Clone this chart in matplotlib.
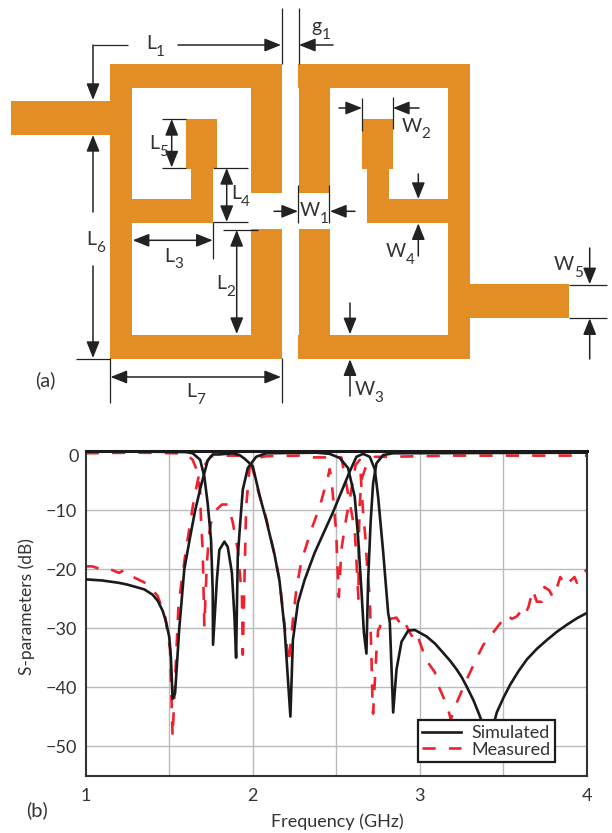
import matplotlib
matplotlib.use('Agg')
import matplotlib.pyplot as plt
from matplotlib.patches import Polygon

plt.rcParams['font.family'] = ['Lato', 'DejaVu Sans']
TXT = '#333333'
ORANGE = '#E38E25'
DIM = '#222222'

##data: curves (GHz, dB)
sim_s21_f = [1, 1.05, 1.1, 1.15, 1.2, 1.25, 1.3, 1.35, 1.4, 1.43, 1.46, 1.48, 1.5, 1.51, 1.52, 1.535, 1.56, 1.59, 1.625, 1.655, 1.69, 1.71, 1.73, 1.76, 1.8, 1.88, 1.92, 1.95,
             2, 2.04, 2.08, 2.13, 2.16, 2.19, 2.225, 2.24, 2.27, 2.31, 2.37, 2.48, 2.58, 2.62, 2.66, 2.7, 2.73, 2.75, 2.78, 2.81, 2.82, 2.84,
             2.86, 2.89, 2.93, 2.97, 3.04, 3.09, 3.14, 3.18, 3.22, 3.25, 3.28, 3.32, 3.35, 3.38, 3.41, 3.435, 3.46, 3.5, 3.54, 3.59, 3.64, 3.7, 3.76, 3.82, 3.88, 3.94, 4]
sim_s21_v = [-21.7, -21.8, -21.9, -22.1, -22.3, -22.6, -23, -23.4, -24.3, -25.3, -27, -28.8, -31.5, -35, -42, -41, -30, -20, -14.5, -10, -5.8, -3.7, -1.5, -0.5, -0.5, -0.3, -0.6, -1.2,
             -2.5, -7.4, -11.6, -17.5, -22, -30, -45, -32, -25.7, -21.8, -17.2, -10.3, -3.4, -0.9, -0.4, -0.9, -3, -7.7, -17, -27.4, -29, -44.3,
             -37, -32.3, -30.4, -30.3, -31.4, -32.6, -34.2, -35.5, -37, -38.3, -39.9, -42.2, -44.3, -46.5, -49, -47, -44.3, -41.8, -39.6, -37.3, -35.3, -33.5, -32, -30.6, -29.4, -28.3, -27.4]
sim_s11_f = [1, 1.3, 1.6, 1.64, 1.685, 1.71, 1.73, 1.75, 1.76, 1.762, 1.785, 1.80, 1.83, 1.85, 1.875, 1.89, 1.9, 1.91, 1.925, 1.94, 1.97, 2.02,
             2.08, 2.38, 2.46, 2.52, 2.57, 2.61, 2.63, 2.65, 2.665, 2.68, 2.69, 2.705, 2.72, 2.74, 2.78, 2.84, 4]
sim_s11_v = [0, 0, -0.1, -0.3, -1.4, -4.3, -8.8, -15, -23.5, -32.8, -21.8, -16.7, -15.3, -16.2, -20.6, -28, -35, -17.9, -12, -6.5, -2.8, -0.9,
             -0.3, -0.2, -0.4, -1.1, -2.8, -7.7, -14.5, -23.5, -30.8, -34.3, -22, -12, -5.4, -2, -0.6, -0.3, -0.2]
meas_s21_f = [1, 1.04, 1.08, 1.12, 1.2, 1.23, 1.27, 1.37, 1.43, 1.475, 1.505, 1.51, 1.52, 1.53, 1.545, 1.555, 1.575, 1.6, 1.625, 1.65, 1.68, 1.72,
              1.75, 1.8, 1.92, 1.98, 2, 2.03, 2.08, 2.13, 2.16, 2.18, 2.2, 2.215, 2.24, 2.26, 2.29, 2.35, 2.4, 2.45, 2.46, 2.47, 2.5, 2.505, 2.515,
              2.53, 2.555, 2.59, 2.615, 2.64, 2.66, 2.675, 2.685, 2.70, 2.705, 2.71, 2.717, 2.72, 2.73, 2.74, 2.75, 2.76, 2.77, 2.795, 2.825, 2.86,
              2.88, 2.9, 2.94, 2.96, 2.98, 3.015, 3.04, 3.09, 3.105, 3.165, 3.185, 3.21, 3.285, 3.355, 3.38, 3.45, 3.52, 3.55, 3.58, 3.615, 3.63, 3.65,
              3.675, 3.70, 3.73, 3.745, 3.775, 3.795, 3.81, 3.84, 3.87, 3.925, 3.94, 3.96, 4]
meas_s21_v = [-19.5, -19.5, -19.9, -19.7, -20.6, -20.1, -21.1, -22.5, -24.5, -28, -33.6, -38.7, -48.4, -42, -32.5, -26.3, -21.8, -16.7, -12.2, -7.7, -3.7, -2,
              -0.8, -0.7, -0.7, -1.8, -3, -6.5, -11.3, -17.5, -21.8, -26.9, -32, -36, -28.6, -23.5, -18.7, -13.3, -9.4, -4.3, -3, -4.5, -14, -18.7, -24.7,
              -16.7, -12, -6.5, -2.3, -1.4, -10.3, -15, -20, -24.8, -29.9, -34.7, -43.3, -44.5, -39.2, -34, -30.3, -29.9, -28.6, -28.2, -28.4, -28.2,
              -29.1, -28.4, -30.8, -31.6, -30.8, -33.6, -35.5, -37.5, -39.4, -43.3, -45.5, -43.3, -38.4, -34.2, -32.8, -30.3, -27.7, -28.4, -28, -26.7, -27.5, -26.4,
              -23.5, -25.5, -25.5, -23, -23.6, -24.7, -24, -21.3, -22.8, -21.3, -22.3, -21.3, -20]
meas_s11_f = [1, 1.3, 1.55, 1.6, 1.64, 1.67, 1.685, 1.69, 1.70, 1.71, 1.725, 1.74, 1.76, 1.815, 1.85, 1.88, 1.91, 1.935, 1.94, 1.96, 1.98, 2,
              2.08, 2.28, 2.35, 2.45, 2.53, 2.61, 2.62, 2.632, 2.635, 2.64, 2.65, 2.68, 2.73, 2.81, 3.2, 4]
meas_s11_v = [-0.3, -0.2, -0.3, -0.4, -1.4, -3.5, -7, -11.6, -16.7, -29.7, -19, -13.8, -10.5, -9, -9, -12, -16.7, -24.6, -34.5, -9.4, -3, -1.2,
              -0.8, -0.7, -1, -1, -1, -13.3, -18.4, -25, -14.2, -9, -4.8, -2.3, -0.9, -0.9, -0.7, -0.7]

x_ticks = [1, 2, 3, 4]
x_grid = [1.5, 2, 2.5, 3, 3.5]
y_ticks = [0, -10, -20, -30, -40, -50]
y_labels = ['', '\u221210', '\u221220', '\u221230', '\u221240', '\u221250']

##data: layout outlines, picture pixels
left_res = [(110, 64), (282, 64), (282, 193), (251, 193), (251, 88), (132, 88), (132, 199), (191, 199), (191, 168.5), (186, 168.5),
            (186, 119), (217, 119), (217, 168), (213, 168), (213, 223), (132, 223), (132, 335), (251, 335), (251, 229), (282, 229),
            (282, 359), (110, 359), (110, 135), (11, 135), (11, 101), (110, 101)]
right_res = [(298, 64), (470, 64), (470, 284), (569, 284), (569, 318), (470, 318), (470, 359), (298, 359), (298, 335), (299, 335),
             (299, 229), (330, 229), (330, 335), (448, 335), (448, 223), (367, 223), (367, 169), (362, 169), (362, 119), (393, 119),
             (393, 169), (389, 169), (389, 199), (448, 199), (448, 88), (330, 88), (330, 193), (299, 193), (299, 88), (298, 88)]
plain_lines = [((128, 45), (93, 45)), ((281.5, 8), (281.5, 64)), ((298.5, 8), (298.5, 64)), ((162, 119), (186, 119)), ((162, 167.7), (186, 167.7)),
               ((213, 167.7), (248, 167.7)), ((213, 222.3), (248, 222.3)), ((213, 222), (213, 259)), ((223, 229.7), (258, 229.7)),
               ((76, 358.5), (110, 358.5)), ((110.3, 358), (110.3, 403)), ((281.5, 358), (281.5, 403)), ((298.3, 185), (298.3, 223)),
               ((329.3, 185), (329.3, 223)), ((362, 98), (362, 131)), ((393, 97), (393, 129)), ((569, 284.7), (607, 284.7)), ((569, 318), (607, 318))]
single_arrows = [((93, 45), (93, 100)), ((178, 45), (281, 45)), ((333, 45), (299, 45)), ((93, 212), (93, 135)), ((93, 266), (93, 358)),
                 ((274, 211.3), (298, 211.3)), ((355, 211.3), (330, 211.3)), ((339, 108), (362, 108)), ((419, 108), (393, 108)),
                 ((418.3, 174), (418.3, 199)), ((418.3, 256), (418.3, 223.3)), ((350, 303), (350, 334.3)), ((350, 396), (350, 359.3)),
                 ((589.7, 248), (589.7, 284.3)), ((589.7, 359), (589.7, 318.3))]
double_arrows = [((171.7, 119), (171.7, 167.5)), ((226.7, 168), (226.7, 222)), ((132.7, 240.3), (212.7, 240.3)), ((236.7, 230), (236.7, 334)), ((110.5, 377), (281, 377))]
dim_labels = [('L', '1', 146, 49), ('L', '5', 149.5, 149), ('L', '4', 231, 199), ('L', '3', 164, 262), ('L', '2', 216.5, 289), ('L', '6', 86.5, 245), ('L', '7', 186, 397),
              ('g', '1', 311, 32), ('W', '1', 300, 216), ('W', '2', 401.5, 131.5), ('W', '3', 354.5, 395), ('W', '4', 386, 257), ('W', '5', 554, 270.5)]
sub_dx = {'L': 10, 'g': 11, 'W': 20}

fig = plt.figure(figsize=(6.12, 8.33), dpi=100)

##(a) layout
ax0 = fig.add_axes([0, 0, 1, 1])
ax0.set_xlim(0, 612)
ax0.set_ylim(833, 0)
ax0.axis('off')
ax0.add_patch(Polygon(left_res, closed=True, fc=ORANGE, ec='none'))
ax0.add_patch(Polygon(right_res, closed=True, fc=ORANGE, ec='none'))
for a, b in plain_lines:
    ax0.plot([a[0], b[0]], [a[1], b[1]], color=DIM, lw=0.9, solid_capstyle='butt')
def arrow(a, b, style):
    ax0.annotate('', xy=b, xytext=a, arrowprops=dict(arrowstyle=style, color=DIM, lw=1.1, shrinkA=0, shrinkB=0, mutation_scale=10))
for a, b in single_arrows:
    arrow(a, b, '-|>,head_length=1.0,head_width=0.4')
for a, b in double_arrows:
    arrow(a, b, '<|-|>,head_length=1.0,head_width=0.4')
for m, s, x, y in dim_labels:
    ax0.text(x, y, m, fontsize=14, color=TXT, va='baseline', ha='left')
    ax0.text(x + sub_dx[m], y + 6.5, s, fontsize=11, color=TXT, va='baseline', ha='left')
ax0.text(35.5, 386, '(a)', fontsize=14.5, color=TXT, va='baseline', ha='left')
ax0.text(26.5, 816.5, '(b)', fontsize=14.5, color=TXT, va='baseline', ha='left')
ax0.text(79, 457, '0', fontsize=13, color=TXT, va='center', ha='right')

##(b) S-parameters
ax = fig.add_axes([85.7/612, (833-775.5)/833, (587-85.7)/612, (775.5-451.5)/833])
ax.patch.set_alpha(0)
ax.set_xlim(1, 4)
ax.set_ylim(-55, 0)
for v in x_grid:
    ax.axvline(v, color='#BBBBBB', lw=1.0, zorder=1)
for v in y_ticks[1:]:
    ax.axhline(v, color='#BBBBBB', lw=1.0, zorder=1)
ax.plot(meas_s21_f, meas_s21_v, color='#F0202F', lw=1.9, dashes=(5, 5), label='Measured', zorder=2)
ax.plot(meas_s11_f, meas_s11_v, color='#F0202F', lw=1.9, dashes=(5, 5), zorder=2)
ax.plot(sim_s21_f, sim_s21_v, color='#1A1A1A', lw=1.9, label='Simulated', zorder=3)
ax.plot(sim_s11_f, sim_s11_v, color='#1A1A1A', lw=1.9, zorder=3)
ax.set_xticks(x_ticks)
ax.set_yticks(y_ticks)
ax.set_yticklabels(y_labels)
ax.tick_params(length=0, labelsize=13, labelcolor=TXT, pad=6)
ax.tick_params(axis='x', pad=9)
for sp in ax.spines.values():
    sp.set_color('#333333')
    sp.set_linewidth(1.5)
ax.spines['top'].set_color('#1A1A1A')
ax.spines['top'].set_linewidth(2.2)
ax.set_xlabel('Frequency (GHz)', fontsize=13, color=TXT, va='center')
ax.xaxis.set_label_coords((337-85.7)/501.3, (775.5-822)/324)
ax.set_ylabel('S-parameters (dB)', fontsize=12.5, color=TXT, va='center')
ax.yaxis.set_label_coords((27-85.7)/501.3, (775.5-607)/324)
h, l = ax.get_legend_handles_labels()
leg = ax.legend(h[::-1], l[::-1], loc='lower left', bbox_to_anchor=((417.7-85.7)/501.3, (775.5-762.3)/324), fontsize=13, frameon=True, fancybox=False,
                framealpha=1, edgecolor='#1A1A1A', borderaxespad=0, borderpad=0.25, labelspacing=0.05, handlelength=2.15, handletextpad=0.55, labelcolor=TXT)
leg.get_frame().set_linewidth(1.6)
leg.set_zorder(5)

fig.savefig('out.png', dpi=100)
